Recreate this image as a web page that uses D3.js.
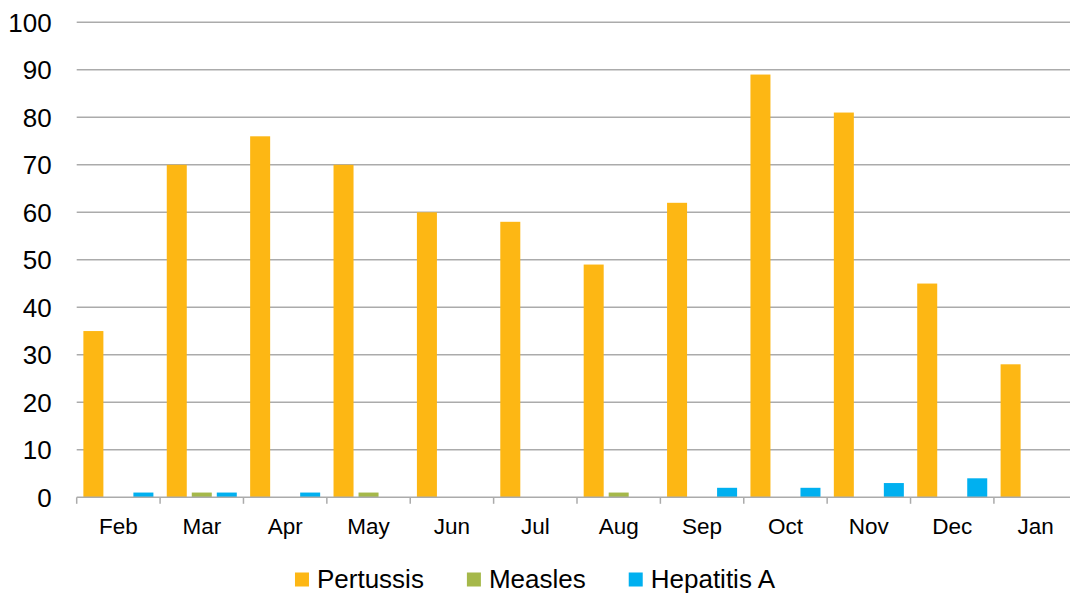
<!DOCTYPE html>
<html>
<head>
<meta charset="utf-8">
<script src="https://cdn.jsdelivr.net/npm/d3@7"></script>
<style>
  html, body { margin: 0; padding: 0; background: #fff; }
  svg { display: block; font-family: "Liberation Sans", Arial, sans-serif; }
</style>
</head>
<body>
<svg id="chart" width="1070" height="595"></svg>
<script>
// Monthly case counts by disease
const months = ["Feb", "Mar", "Apr", "May", "Jun", "Jul", "Aug", "Sep", "Oct", "Nov", "Dec", "Jan"];
const seriesNames = ["Pertussis", "Measles", "Hepatitis A"];
const pertussis = [35, 70, 76, 70, 60, 58, 49, 62, 89, 81, 45, 28];
const measles = [0, 1, 0, 1, 0, 0, 1, 0, 0, 0, 0, 0];
const hepatitisA = [1, 1, 1, 0, 0, 0, 0, 2, 2, 3, 4, 0];
const yTicks = [0, 10, 20, 30, 40, 50, 60, 70, 80, 90, 100];
const colors = ["#FDB714", "#A5B84A", "#00B0F0"];

const seriesValues = [pertussis, measles, hepatitisA];

const svg = d3.select("#chart");
const plotLeft = 76.7, plotRight = 1077.3, plotTop = 22.3, plotBottom = 497.3;

const x = d3.scaleBand().domain(months).range([plotLeft, plotRight]).padding(0);
const xs = d3.scaleBand().domain(seriesNames).range([0, x.bandwidth()])
  .paddingInner(0.2).paddingOuter(0.267);
const y = d3.scaleLinear().domain([0, 100]).range([plotBottom, plotTop]);

const gridColor = "#ABABAB";

// horizontal gridlines
svg.append("g").selectAll("line")
  .data(yTicks.filter(d => d > 0))
  .join("line")
  .attr("x1", plotLeft).attr("x2", plotRight)
  .attr("y1", d => y(d)).attr("y2", d => y(d))
  .attr("stroke", gridColor).attr("stroke-width", 1.5);

// y tick labels
svg.append("g").selectAll("text")
  .data(yTicks)
  .join("text")
  .attr("x", plotLeft - 25)
  .attr("y", d => y(d))
  .attr("dy", "0.36em")
  .attr("text-anchor", "end")
  .attr("font-size", 26)
  .attr("fill", "#000")
  .text(d => d);

// bars
const rows = months.map((m, i) => ({ month: m, values: seriesNames.map((s, j) => ({ s, v: seriesValues[j][i], c: colors[j] })) }));
svg.append("g").selectAll("g")
  .data(rows)
  .join("g")
  .attr("transform", d => `translate(${x(d.month)},0)`)
  .selectAll("rect")
  .data(d => d.values.filter(v => v.v > 0))
  .join("rect")
  .attr("x", d => xs(d.s))
  .attr("width", xs.bandwidth())
  .attr("y", d => y(d.v))
  .attr("height", d => y(0) - y(d.v))
  .attr("fill", d => d.c);

// x axis baseline with tick marks at band edges
const xAxis = svg.append("g");
xAxis.append("line")
  .attr("x1", plotLeft).attr("x2", plotRight)
  .attr("y1", plotBottom).attr("y2", plotBottom)
  .attr("stroke", gridColor).attr("stroke-width", 1.5);
xAxis.selectAll("line.tick")
  .data(months.map(m => x(m)).concat([plotRight]))
  .join("line")
  .attr("class", "tick")
  .attr("x1", d => d).attr("x2", d => d)
  .attr("y1", plotBottom).attr("y2", plotBottom + 6.5)
  .attr("stroke", gridColor).attr("stroke-width", 1.5);
xAxis.selectAll("text")
  .data(months)
  .join("text")
  .attr("x", d => x(d) + x.bandwidth() / 2)
  .attr("y", 534)
  .attr("text-anchor", "middle")
  .attr("font-size", 22.5)
  .attr("fill", "#000")
  .text(d => d);

// legend, centred below the axis
const legend = svg.append("g");
const items = legend.selectAll("g")
  .data(seriesNames)
  .join("g");
items.append("rect")
  .attr("width", 14).attr("height", 14)
  .attr("y", 572.5)
  .attr("fill", (d, i) => colors[i]);
items.append("text")
  .attr("x", 22)
  .attr("y", 587.5)
  .attr("font-size", 26)
  .attr("fill", "#000")
  .text(d => d);
const gap = 43;
const widths = [];
items.each(function () {
  const w = 22 + d3.select(this).select("text").node().getComputedTextLength();
  widths.push(w);
});
const total = d3.sum(widths) + gap * (widths.length - 1);
const start = 535 - total / 2;
items.attr("transform", (d, i) => {
  const tx = start + d3.sum(widths.slice(0, i)) + gap * i;
  return `translate(${tx},0)`;
});
</script>
</body>
</html>
